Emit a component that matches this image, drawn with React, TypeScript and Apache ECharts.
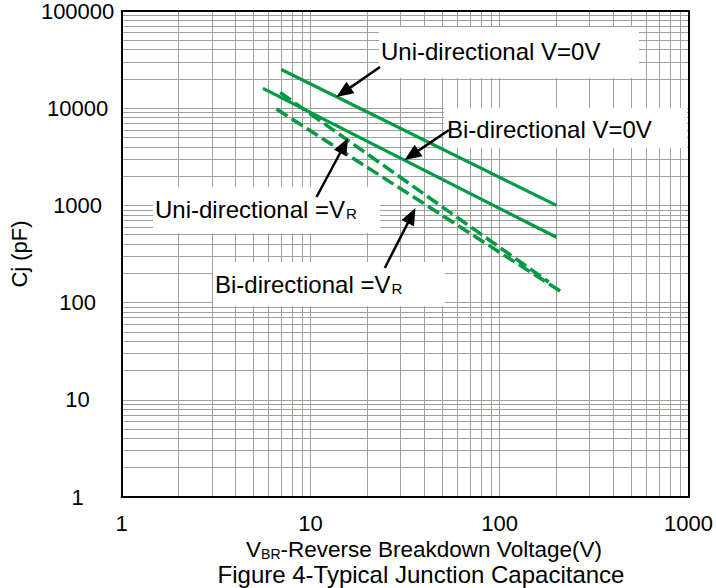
import React, { useEffect, useRef } from "react";
import * as echarts from "echarts";

// ---- data ----
const xDecades = [1, 10, 100];
const yDecades = [1, 10, 100, 1000, 10000];
const gridMultipliers = [1, 2, 3, 4, 5, 6, 7, 8, 9];

const uniV0 = [[7, 25000], [200, 1000]];
const biV0 = [[5.6, 16000], [200, 470]];
const uniVR = [[6.9, 14500], [182, 163]];
const biVR = [[6.6, 9800], [211, 130]];

// arrows: [tail, tip] in data coordinates
const arrowUniV0 = [[23.3, 26500], [13.7, 13000]];
const arrowBiV0 = [[54, 5970], [31.4, 2930]];
const arrowUniVR = [[10.75, 1220], [15.8, 4930]];
const arrowBiVR = [[24.7, 227], [35.9, 940]];

const FONT = "'Liberation Sans', Arial, sans-serif";
const GREEN = "#009944";
const GRID = "#a0a09a";

export default function App() {
  const ref = useRef<HTMLDivElement>(null);

  useEffect(() => {
    const chart = echarts.init(ref.current!, null, { renderer: "svg" });

    const xGrid: number[] = [];
    xDecades.forEach((d) =>
      gridMultipliers.forEach((m) => {
        const v = d * m;
        if (v > 1 && v < 1000) xGrid.push(v);
      })
    );
    const yGrid: number[] = [];
    yDecades.forEach((d) =>
      gridMultipliers.forEach((m) => {
        const v = d * m;
        if (v > 1 && v < 100000) yGrid.push(v);
      })
    );

    const fmt = (v: number) => String(Math.round(v));
    const logAxisCommon = {
      type: "log",
      logBase: 10,
      z: 4,
      axisTick: { show: false },
      splitLine: { show: false },
      minorTick: { show: false },
      axisLine: { show: true, onZero: false, lineStyle: { color: "#000", width: 2 } },
    };

    chart.setOption({
      animation: false,
      grid: { left: 116, right: 27, top: 11, bottom: 91, show: false },
      xAxis: [
        {
          ...logAxisCommon,
          min: 1,
          max: 1000,
          position: "bottom",
          axisLabel: { color: "#000", fontSize: 22, fontFamily: FONT, margin: 15, formatter: fmt },
        },
        {
          ...logAxisCommon,
          min: 1,
          max: 1000,
          position: "top",
          axisLabel: { show: false },
        },
      ],
      yAxis: [
        {
          ...logAxisCommon,
          min: 1,
          max: 100000,
          position: "left",
          name: "Cj (pF)",
          nameLocation: "middle",
          nameGap: 83,
          nameTextStyle: { color: "#000", fontSize: 22, fontFamily: FONT },
          axisLabel: {
            color: "#000",
            fontSize: 22,
            fontFamily: FONT,
            margin: 44,
            align: "center",
            padding: [6, 0, 0, 0],
            formatter: fmt,
          },
        },
        {
          ...logAxisCommon,
          min: 1,
          max: 100000,
          position: "right",
          axisLabel: { show: false },
        },
      ],
      series: [
        {
          type: "line",
          name: "grid",
          data: [[1, 1]],
          showSymbol: false,
          lineStyle: { opacity: 0 },
          silent: true,
          z: 1,
          markLine: {
            silent: true,
            z: 1,
            symbol: ["none", "none"],
            label: { show: false },
            lineStyle: { color: GRID, width: 1, type: "solid" },
            emphasis: { disabled: true },
            data: [
              ...xGrid.map((v) => ({ xAxis: v })),
              ...yGrid.map((v) => ({ yAxis: v })),
            ],
          },
        },
        {
          type: "line",
          name: "Uni-directional V=0V",
          data: uniV0,
          showSymbol: false,
          z: 5,
          lineStyle: { color: GREEN, width: 3.2 },
        },
        {
          type: "line",
          name: "Bi-directional V=0V",
          data: biV0,
          showSymbol: false,
          z: 5,
          lineStyle: { color: GREEN, width: 3.2 },
        },
        {
          type: "line",
          name: "Uni-directional =VR",
          data: uniVR,
          showSymbol: false,
          z: 5,
          lineStyle: { color: GREEN, width: 3.5, type: [13, 5] },
        },
        {
          type: "line",
          name: "Bi-directional =VR",
          data: biVR,
          showSymbol: false,
          z: 5,
          lineStyle: { color: GREEN, width: 3.5, type: [13, 5] },
        },
      ],
    });

    // ---- annotations ----
    const box = (x: number, y: number, w: number, h: number) => ({
      type: "rect",
      z: 3,
      silent: true,
      shape: { x, y, width: w, height: h },
      style: { fill: "#fff" },
    });
    const rich = {
      a: { fontSize: 24, fontFamily: FONT, fill: "#000", color: "#000" },
      s: { fontSize: 15, fontFamily: FONT, fill: "#000", color: "#000", verticalAlign: "bottom", lineHeight: 15, padding: [0, 0, 0, 1] },
    };
    const label = (x: number, y: number, text: string) => ({
      type: "text",
      z: 6,
      silent: true,
      x,
      y,
      style: {
        text,
        rich,
        fill: "#000",
        fontSize: 24,
        fontFamily: FONT,
        verticalAlign: "middle",
        align: "left",
      },
    });

    const arrowEls: any[] = [];
    [arrowUniV0, arrowBiV0, arrowUniVR, arrowBiVR].forEach((a) => {
      const s = chart.convertToPixel({ xAxisIndex: 0, yAxisIndex: 0 }, a[0]) as number[];
      const t = chart.convertToPixel({ xAxisIndex: 0, yAxisIndex: 0 }, a[1]) as number[];
      const dx = t[0] - s[0];
      const dy = t[1] - s[1];
      const len = Math.sqrt(dx * dx + dy * dy);
      const ux = dx / len;
      const uy = dy / len;
      const L = 17;
      const W = 7;
      const bx = t[0] - ux * L;
      const by = t[1] - uy * L;
      arrowEls.push({
        type: "line",
        z: 6,
        silent: true,
        shape: { x1: s[0], y1: s[1], x2: bx + ux * 2, y2: by + uy * 2 },
        style: { stroke: "#000", lineWidth: 2.5 },
      });
      arrowEls.push({
        type: "polygon",
        z: 6,
        silent: true,
        shape: {
          points: [
            [t[0], t[1]],
            [bx - uy * W, by + ux * W],
            [bx + uy * W, by - ux * W],
          ],
        },
        style: { fill: "#000" },
      });
    });

    chart.setOption({
      graphic: {
        elements: [
          box(379, 27, 260, 51),
          box(444, 108, 243, 40),
          box(153, 187, 227, 46),
          box(213, 262, 232, 44),
          label(381, 51, "{a|Uni-directional V=0V}"),
          label(447, 129, "{a|Bi-directional V=0V}"),
          label(155, 209, "{a|Uni-directional =V}{s|R}"),
          label(215, 284, "{a|Bi-directional =V}{s|R}"),
          ...arrowEls,
          {
            type: "text",
            z: 6,
            silent: true,
            x: 424,
            y: 549,
            style: {
              text: "{a|V}{s|BR}{a|-Reverse Breakdown Voltage(V)}",
              rich: {
                a: { fontSize: 22.5, fontFamily: FONT, fill: "#000", color: "#000" },
                s: { fontSize: 14, fontFamily: FONT, fill: "#000", color: "#000", verticalAlign: "bottom", lineHeight: 14 },
              },
              align: "center",
              verticalAlign: "middle",
            },
          },
          {
            type: "text",
            z: 6,
            silent: true,
            x: 421,
            y: 574,
            style: {
              text: "Figure 4-Typical Junction Capacitance",
              fill: "#000",
              fontSize: 24,
              fontFamily: FONT,
              align: "center",
              verticalAlign: "middle",
            },
          },
        ],
      },
    });

    return () => chart.dispose();
  }, []);

  return (
    <div
      ref={ref}
      style={{ position: "fixed", left: 0, top: 0, width: 716, height: 588, background: "#fff" }}
    />
  );
}
